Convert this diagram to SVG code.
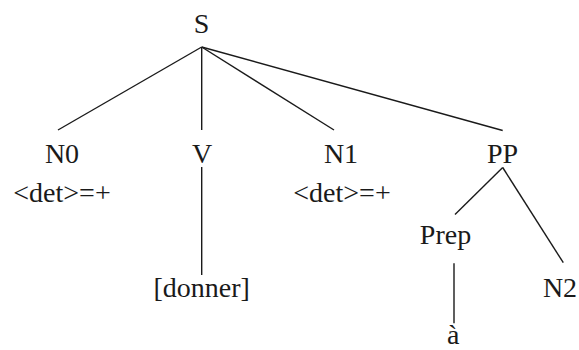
<svg xmlns="http://www.w3.org/2000/svg" width="579" height="350" viewBox="0 0 579 350">
<style>
text{font-family:'Liberation Serif','DejaVu Serif','Noto Serif',serif;font-size:28px;fill:#1a1a1a;text-anchor:middle}
line{stroke:#1a1a1a;stroke-width:1.4}
</style>
<rect width="579" height="350" fill="#fff"/>
<g id="connectors">
<line x1="201.7" y1="47" x2="58" y2="130"/>
<line x1="201.7" y1="47" x2="201.7" y2="130"/>
<line x1="201.7" y1="47" x2="334" y2="130"/>
<line x1="201.7" y1="47" x2="502.7" y2="130.5"/>
<line x1="201.7" y1="167" x2="201.7" y2="275"/>
<line x1="502.7" y1="167.5" x2="455" y2="214.5"/>
<line x1="502.7" y1="167.5" x2="563.3" y2="262.7"/>
<line x1="454" y1="263.3" x2="454" y2="323.3"/>
</g>
<g id="S"><text x="201.5" y="33">S</text></g>
<g id="N0"><text x="62" y="163">N0</text><text x="62" y="202">&lt;det&gt;=+</text></g>
<g id="V"><text x="202" y="163">V</text></g>
<g id="donner"><text x="201.7" y="297">[donner]</text></g>
<g id="N1"><text x="341" y="163">N1</text><text x="342" y="202">&lt;det&gt;=+</text></g>
<g id="PP"><text x="502.5" y="163">PP</text></g>
<g id="Prep"><text x="445.5" y="244">Prep</text></g>
<g id="N2"><text x="560" y="297">N2</text></g>
<g id="a"><text x="453.3" y="344">à</text></g>
</svg>
